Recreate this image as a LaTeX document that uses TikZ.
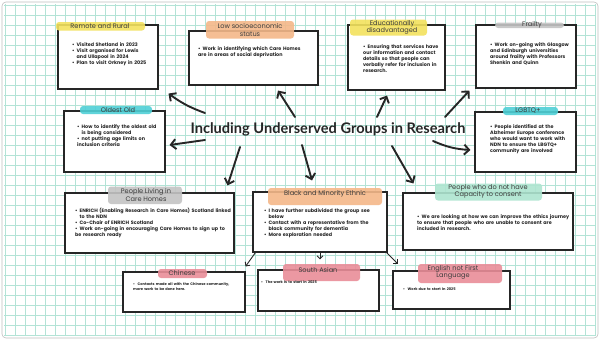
\documentclass[tikz,border=0pt]{standalone}
\usepackage{fontspec}
\setmainfont{Poppins}
\newfontfamily\headfont{Lato}
\usetikzlibrary{arrows.meta}

% bullet item with hanging indent
\newcommand\bitem{\par\hangindent=4.5pt\hangafter=1\noindent\hbox to 4.5pt{•\hss}}
\newcommand\nohyph{\hyphenpenalty=10000\exhyphenpenalty=10000}

\definecolor{gridc}{HTML}{B3E3D6}
\definecolor{hlyellow}{HTML}{F3E25E}
\definecolor{hlorange}{HTML}{F4B889}
\definecolor{hlgray}{HTML}{C4C4C4}
\definecolor{hlcyan}{HTML}{4FD0D6}
\definecolor{hlmint}{HTML}{AEE5D0}
\definecolor{hlpink}{HTML}{E98D98}
\definecolor{ink}{HTML}{262626}

\begin{document}
\begin{tikzpicture}[x=1pt,y=-1pt,
  card/.style={draw=ink, line width=1.1pt, fill=white, inner sep=0pt},
  body/.style={anchor=north west, align=left, inner sep=0pt, text=ink,
    font=\nohyph\bfseries\fontsize{4.85}{6.1}\selectfont},
  smallbody/.style={body, font=\nohyph\bfseries\fontsize{3.6}{4.6}\selectfont},
  tag/.style={font=\fontsize{6.6}{7.4}\selectfont, text=ink!90, align=center, inner sep=0pt},
  hl/.style={rounded corners=3pt, opacity=0.9},
  link/.style={line width=1.9pt, draw=ink, line cap=round,
    -{Straight Barb[length=5pt,width=10pt,line width=1.9pt]}},
  sublink/.style={line width=0.9pt, draw=ink, line cap=round,
    -{Straight Barb[length=3pt,width=6pt,line width=0.9pt]}},
]
\useasboundingbox (0,0) rectangle (600,340);
\fill[white] (0,0) rectangle (600,340);

% squared paper
\foreach \x in {5,15,...,595} \draw[gridc, line width=0.6pt] (\x,4) -- (\x,336);
\foreach \y in {5,15,...,335} \draw[gridc, line width=0.6pt] (4,\y) -- (596,\y);
\draw[black!25, line width=0.6pt, rounded corners=4pt] (2,2) rectangle (598,338);

% cards
\node[card, minimum width=100, minimum height=64] (rr)   at (108,57)    {};
\node[card, minimum width=129, minimum height=54] (low)  at (253.5,58)  {};
\node[card, minimum width=97,  minimum height=65] (edu)  at (396.5,57.5){};
\node[card, minimum width=100, minimum height=63] (fra)  at (526,56.5)  {};
\node[card, minimum width=101, minimum height=61] (old)  at (114.5,141.5){};
\node[card, minimum width=101, minimum height=60] (lgb)  at (525.5,142) {};
\node[card, minimum width=169, minimum height=60] (care) at (149.5,223) {};
\node[card, minimum width=134, minimum height=60] (bme)  at (320,222)   {};
\node[card, minimum width=170, minimum height=57] (cap)  at (488,221.5) {};
\node[card, minimum width=122, minimum height=40] (chi)  at (184,292)   {};
\node[card, minimum width=121, minimum height=41] (sa)   at (318.5,290.5){};
\node[card, minimum width=117, minimum height=38] (eng)  at (451.5,290) {};

% highlighter strokes behind the card titles
\fill[hl, hlyellow] (56,22) rectangle (145,30.5);
\fill[hl, hlorange] (206,21) rectangle (294,38.5);
\fill[hl, hlyellow] (350,19.5) rectangle (427,35.5);
\fill[hl, hlgray]   (495,22.5) rectangle (564,28);
\fill[hl, hlcyan]   (80,106) rectangle (152,114);
\fill[hl, hlcyan]   (503,107) rectangle (558,115);
\fill[hl, hlgray]   (108,186.5) rectangle (182,204);
\fill[hl, hlorange] (268,188) rectangle (382,205);
\fill[hl, hlmint]   (435,183.5) rectangle (542,200.5);
\fill[hl, hlpink]   (158,269) rectangle (207,278);
\fill[hl, hlpink]   (283,264) rectangle (360,281);
\fill[hl, hlpink]   (418,264) rectangle (502,283);

% card titles
\node[tag] (rrT)   at (100,26.5) {Remote and Rural};
\node[tag] (lowT)  at (250,30)   {Low socioeconomic\\status};
\node[tag] (eduT)  at (392,27.5) {Educationally\\disadvantaged};
\node[tag] (fraT)  at (532,25)   {Frailty};
\node[tag] (oldT)  at (118,110)  {Oldest Old};
\node[tag] (lgbT)  at (528,111)  {LGBTQ+};
\node[tag] (careT) at (146,195)  {People Living in\\Care Homes};
\node[tag] (bmeT)  at (325,194)  {Black and Minority Ethnic};
\node[tag] (capT)  at (488,191.5){People who do not have\\Capacity to consent};
\node[tag] (chiT)  at (182,273.5){Chinese};
\node[tag] (saT)   at (318,270)  {South Asian};
\node[tag] (engT)  at (453,272.5){English not First\\Language};

% card contents
\node[body, text width=76]  (rrB)  at (72,40)  {\bitem Visited Shetland in 2023\bitem Visit organised for Lewis and Ullapool in 2024\bitem Plan to visit Orkney in 2025};
\node[body, text width=112] (lowB) at (198,44) {\bitem Work in identifying which Care Homes are in areas of social deprivation};
\node[body, text width=80]  (eduB) at (363,42) {\bitem Ensuring that services have our information and contact details so that people can verbally refer for inclusion in research.};
\node[body, text width=82]  (fraB) at (490,40) {\bitem Work on-going with Glasgow and Edinburgh universities around frailty with Professors Shenkin and Quinn};
\node[body, text width=84]  (oldB) at (77,122) {\bitem How to identify the oldest old is being considered\bitem not putting age limits on inclusion criteria};
\node[body, text width=82]  (lgbB) at (490,122){\bitem People identified at the Alzheimer Europe conference who would want to work with NDN to ensure the LBGTQ+ community are involved};
\node[body, text width=156] (careB) at (75,206){\bitem ENRICH (Enabling Research in Care Homes) Scotland linked to the NDN\bitem Co-Chair of ENRICH Scotland\bitem Work on-going in encouraging Care Homes to sign up to be research ready};
\node[body, text width=118] (bmeB) at (264,206){\bitem I have further subdivided the group see below\bitem Contact with a representative from the black community for dementia\bitem More exploration needed};
\node[body, text width=156] (capB) at (417,212){\bitem We are looking at how we can improve the ethics journey to ensure that people who are unable to consent are included in research.};
\node[smallbody, text width=100] (chiB) at (133,281){\bitem Contacts made all with the Chinese community, more work to be done here.};
\node[smallbody, text width=90]  (saB)  at (261,279){\bitem The work is to start in 2025};
\node[smallbody, text width=90]  (engB) at (403,286){\bitem Work due to start in 2025};

% central heading
\node[font=\headfont\bfseries\fontsize{14.6}{16}\selectfont, text=ink, inner sep=2pt] (title) at (328,129)
  {Including Underserved Groups in Research};

% connectors
\draw[link] ([shift={(-123,-16)}]title.center) to[bend left=8] ([shift={(10,4)}]rr.south east);
\draw[link] ([shift={(-33,-12)}]title.center) -- ([shift={(24.5,5)}]low.south);
\draw[link] ([shift={(49,-12)}]title.center) -- ([shift={(-9.5,5)}]edu.south);
\draw[link] ([shift={(117,-12)}]title.center) -- ([shift={(-6,2)}]fra.south west);
\draw[link] ([shift={(-123,11)}]title.center) -- ([shift={(4,3.5)}]old.east);
\draw[link] ([shift={(105,12)}]title.center) to[bend right=10] ([shift={(-4,8)}]lgb.west);
\draw[link] ([shift={(-88,18)}]title.center) -- ([shift={(-7,-7)}]care.north east);
\draw[link] ([shift={(-26,16)}]title.center) -- ([shift={(-8,-11)}]bme.north);
\draw[link] ([shift={(64,17)}]title.center) -- ([shift={(11,-9)}]cap.north west);

\draw[sublink] ([shift={(3,0)}]bme.south west) -- ([shift={(0,-5)}]chi.north east);
\draw[sublink] (bme.south) -- ([shift={(1.5,-10)}]sa.north);
\draw[sublink] ([shift={(-1,0)}]bme.south east) -- ([shift={(5,-7)}]eng.north west);
\end{tikzpicture}
\end{document}
